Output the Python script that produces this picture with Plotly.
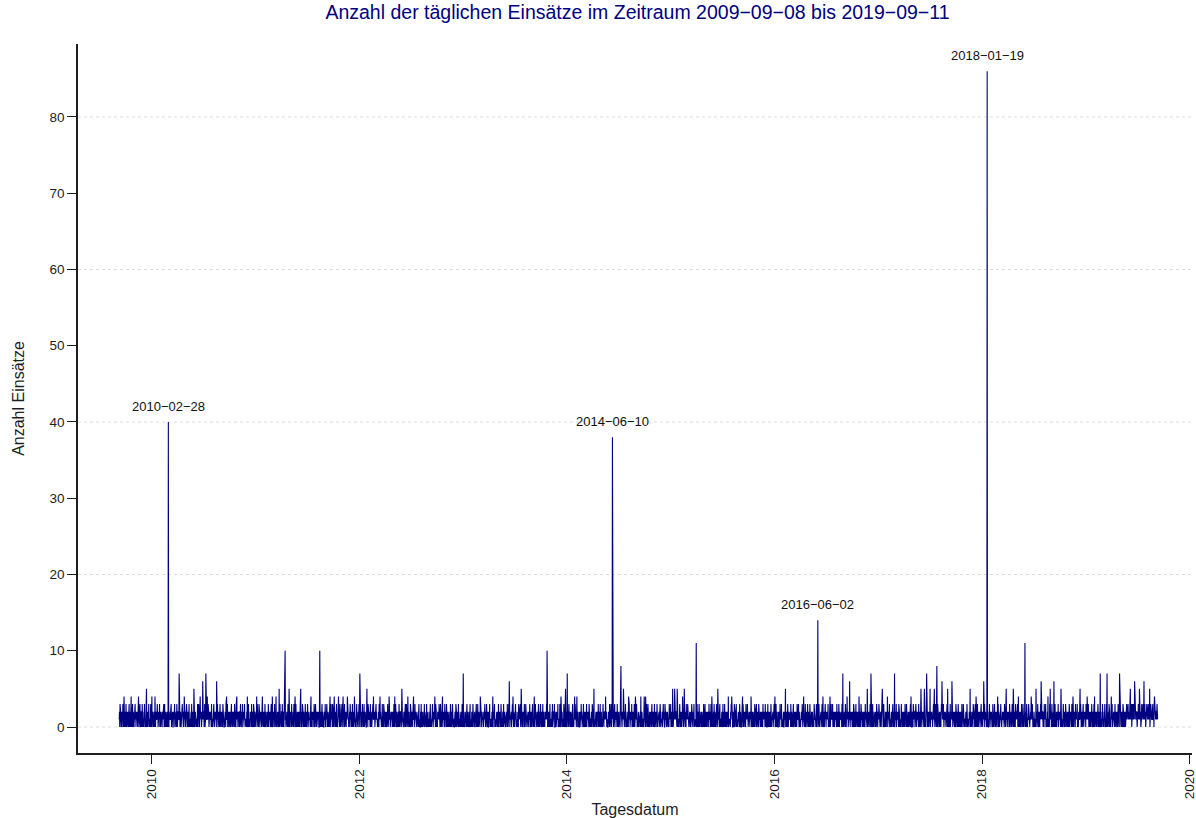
import plotly.graph_objects as go
import pandas as pd

# ---------------- Daten ----------------
startdatum = "2009-09-08"

# tägliche Grundwerte (eine Ziffer je Tag, ab 2009-09-08)
basis_zeilen = [
    "1203121021 0213102120 1120312011 2101230112 0211021301",
    "2102013120 1021203112 0123102210 1320110213 2011032102",
    "0121302110 2310120121 1022103102 0112312010 2130120211",
    "1021120301 3012021102 2101302011 1203012120 0211230101",
    "2013101221 1023012102 0132110210 2101202313 1020113021",
    "0212031102 1102310120 2011023101 3120102112 0121031220",
    "1302101211 0213120102 1121030210 2013102112 1200213101",
    "2110230121 1021031210 0212103121 1302012110 2101231021",
    "0121103210 2130102112 1012201310 0211302121 1320110102",
    "1102130211 0211203101 2103120210 1021103212 0131201021",
    "2012310120 1203101211 0121031021 2110230102 1021120312",
    "1030211201 2102013110 1220310121 0312011021 2101320110",
    "0211201302 1120130211 2031011201 1202103120 0112031210",
    "2101130210 0213201121 1102310120 2011203101 1320120112",
    "1210031201 2011302110 0121130212 1302101120 2110203121",
    "0312011210 1201230110 2102110312 0121301201 1023011210",
    "2110320101 0213110202 1301201121 2011023110 0211302012",
    "1021013210 2130112010 0211203121 1120310210 2013101122",
    "0201312110 1102031201 2120113021 0312101210 1201132011",
    "1312010221 2011201310 1023110212 0121031102 2110203101",
    "0121102310 1302012110 2011031201 1210230112 0312101021",
    "2101230110 0213011202 1120310121 2031101201 1102130210",
    "1023101211 2110302011 0211213010 1302011210 2011203112",
    "0132012101 1201103210 2013120110 0121031201 1210302110",
    "2101120312 0312011021 1102301210 2120130101 0211032110",
    "1210201301 2031102110 0121310201 1102012310 2013110120",
    "0211302110 1120130201 2301101212 0112031021 1201320110",
    "2013011201 0121203110 1310201121 2011310202 1102031201",
    "1102103121 2130110201 0211203110 1320101212 0121130201",
    "2011230110 1102031201 2120113021 0213101210 1301201102",
    "0121310201 2011203110 1102130212 2130011201 0211302110",
    "1310201102 0211031201 2101120312 1023110210 2110203011",
    "0201132110 1312011020 0211203121 2101310120 1120130201",
    "2110302011 0121031210 1302101121 0211203110 2013011201",
    "1023110212 2101320110 0121103201 1310210121 0211302011",
    "2103011201 1120310212 0211203101 2130110120 1102031201",
    "0211301210 2013101121 1320110201 0121203110 2101130212",
    "1202103110 0312011201 2110230121 1021301210 0213101122",
    "2011320101 1201031210 0312110201 2120103112 1301201021",
    "0121103212 2110302011 1023110201 0211320110 2101203121",
    "1310201121 0201132110 2113021010 1202310121 0312011210",
    "2101120310 1130210201 0211203112 2013101210 1120310201",
    "0213101121 2102310110 1201130212 0312011201 2110203110",
    "1021320110 0211031201 2130110212 1102301210 0121103201",
    "2110203121 1302011210 0211310201 2101120312 1023101210",
    "0312110201 2011203121 1120310210 0213011201 2101320112",
    "1201031210 2130112010 0211203121 1302101120 0121130210",
    "2013101212 1120310201 0213011210 2101203112 1310201102",
    "0211320110 2101130212 1023110201 0312011210 2120103121",
    "1102301210 0213101121 2011320110 1201031202 0121130210",
    "2110203121 1302011201 0211203110 2013101212 1120310201",
    "0121103210 2101320112 1310201121 0211031202 2103011210",
    "1201130212 0312110201 2011203121 1102301210 0213101120",
    "2130110201 1021203112 0211310201 2101120310 1320110212",
    "0211203121 1302101120 2013011201 0121130212 2110302011",
    "1023110210 2101203121 0312011201 1210230110 0211031212",
    "2011320112 1120310201 0213101211 2102130110 1301201021",
    "0121103212 2110203120 1023110211 0312101201 2101320112",
    "1310201121 0211302110 2101130212 1023011201 0212031210",
    "2103110201 1201203121 0311201102 2110320110 1021130212",
    "0211203121 2013101120 1302011212 0121310201 2110203112",
    "1201320110 0213101211 2101130202 1310201121 0211302110",
    "2013110212 1120203101 0312110201 2101320112 1023110210",
    "0211031212 2130110201 1201203121 0312011210 2110302011",
    "1310201121 0211320110 2101130212 1023110201 0213101212",
    "2101203121 1302110201 0211031212 2013101120 1120310212",
    "0121130212 2110302011 1023110212 0312101201 2101320112",
    "1203110212 0211203121 2130110201 1201320112 0213101212",
    "1203121021 2310120121 0213102120 1302012110 2101231021",
    "0212031102 1320110213 2011032102 1120312011 0211230101",
    "2110230121 1021203112 0132110210 2103120210 1202313121",
    "2312121232 1213021312 3121232112 2210121321 1322120213",
    "2121312213 3120221321 1232121302 2312112231 1203221312",
    "212321",
]

# Tage mit erhöhter Einsatzzahl
spitzen_datum = [
    "2009-09-25", "2009-10-20", "2009-11-15", "2009-12-13", "2010-01-01", "2010-01-12",
    "2010-02-28", "2010-04-07", "2010-04-25", "2010-05-29", "2010-06-20", "2010-06-29",
    "2010-07-10", "2010-07-15", "2010-08-17", "2010-09-21", "2010-10-27", "2010-12-03",
    "2011-01-05", "2011-01-25", "2011-03-01", "2011-03-14", "2011-03-25", "2011-04-15",
    "2011-04-29", "2011-05-20", "2011-06-09", "2011-07-15", "2011-08-15", "2011-09-20",
    "2011-10-05", "2011-10-20", "2011-11-05", "2011-11-20", "2011-12-15", "2012-01-03",
    "2012-01-28", "2012-02-20", "2012-03-14", "2012-04-15", "2012-05-05", "2012-05-30",
    "2012-06-20", "2012-07-10", "2012-09-23", "2012-10-20", "2013-01-01", "2013-03-02",
    "2013-04-15", "2013-06-12", "2013-06-25", "2013-07-24", "2013-09-08", "2013-10-23",
    "2013-10-24", "2013-12-11", "2013-12-27", "2014-01-02", "2014-01-28", "2014-02-05",
    "2014-04-06", "2014-05-17", "2014-06-10", "2014-07-10", "2014-07-19", "2014-08-06",
    "2014-08-30", "2014-09-18", "2014-09-30", "2014-10-05", "2015-01-08", "2015-01-15",
    "2015-01-24", "2015-02-12", "2015-02-18", "2015-04-01", "2015-05-26", "2015-06-16",
    "2015-07-23", "2015-08-04", "2015-09-11", "2015-10-11", "2016-01-03", "2016-02-09",
    "2016-04-13", "2016-06-02", "2016-06-20", "2016-07-15", "2016-08-29", "2016-09-13",
    "2016-09-22", "2016-10-25", "2016-11-23", "2016-12-06", "2017-01-15", "2017-02-02",
    "2017-02-27", "2017-04-26", "2017-05-31", "2017-06-12", "2017-06-20", "2017-07-02",
    "2017-07-17", "2017-07-26", "2017-08-13", "2017-09-02", "2017-09-17", "2017-11-20",
    "2017-12-11", "2018-01-07", "2018-01-19", "2018-02-25", "2018-03-27", "2018-04-21",
    "2018-05-09", "2018-06-01", "2018-06-23", "2018-07-10", "2018-07-28", "2018-08-21",
    "2018-08-29", "2018-09-11", "2018-10-06", "2018-11-17", "2018-12-12", "2019-01-06",
    "2019-02-01", "2019-02-21", "2019-03-17", "2019-04-01", "2019-04-30", "2019-06-07",
    "2019-06-22", "2019-07-09", "2019-07-25", "2019-08-14", "2019-08-31",
]
spitzen_wert = [
    4, 4, 4, 5, 4, 4,
    40, 7, 4, 5, 4, 6,
    7, 4, 6, 4, 4, 4,
    4, 4, 4, 4, 5, 10,
    5, 4, 5, 4, 10, 4,
    4, 4, 4, 4, 4, 7,
    5, 4, 4, 4, 4, 5,
    4, 4, 4, 4, 7, 4,
    4, 6, 4, 5, 4, 10,
    7, 4, 5, 7, 4, 4,
    5, 4, 38, 8, 5, 4,
    4, 4, 4, 4, 5, 5,
    5, 4, 5, 11, 4, 5,
    4, 4, 4, 4, 4, 5,
    4, 14, 4, 4, 7, 4,
    6, 4, 5, 7, 5, 4,
    7, 4, 5, 5, 7, 5,
    5, 8, 6, 5, 6, 5,
    4, 6, 86, 4, 5, 5,
    4, 11, 4, 5, 6, 4,
    5, 6, 5, 4, 5, 4,
    4, 7, 7, 4, 7, 5,
    6, 5, 6, 5, 4,
]

beschriftete_tage = ["2010-02-28", "2014-06-10", "2016-06-02", "2018-01-19"]

x_tick_jahre = ["2010", "2012", "2014", "2016", "2018", "2020"]
y_tick_werte = [0, 10, 20, 30, 40, 50, 60, 70, 80]
gitter_werte = [0, 20, 40, 60, 80]

# ---------------- Aufbereitung ----------------
werte = [int(c) for z in basis_zeilen for c in z if c.isdigit()]
tage = pd.date_range(startdatum, periods=len(werte), freq="D")
reihe = pd.Series(werte, index=tage)
for d, v in zip(spitzen_datum, spitzen_wert):
    t = pd.Timestamp(d)
    if t in reihe.index:
        reihe[t] = v

NAVY = "#000080"
FONT = "Liberation Sans, Arial, sans-serif"
GRAU = "#1e1e1e"

fig = go.Figure()
fig.add_trace(go.Scatter(
    x=reihe.index, y=reihe.values, mode="lines",
    line=dict(color=NAVY, width=1.1), hoverinfo="x+y", showlegend=False,
))

for g in gitter_werte:
    fig.add_hline(y=g, line=dict(color="#dcdcdc", width=1, dash="dot"), layer="below")

for d in beschriftete_tage:
    t = pd.Timestamp(d)
    fig.add_annotation(
        x=t, y=reihe[t], text=d.replace("-", "\u2212"), showarrow=False,
        yanchor="bottom", yshift=6, font=dict(size=13, color="#111111", family=FONT),
    )

titel = "Anzahl der täglichen Einsätze im Zeitraum {} bis {}".format(
    reihe.index[0].strftime("%Y-%m-%d"), "2019-09-11").replace("-", "\u2212")

fig.update_layout(
    width=1196, height=818,
    margin=dict(l=78, r=4, t=44, b=65, autoexpand=False),
    paper_bgcolor="white", plot_bgcolor="white",
    font=dict(family=FONT, color=GRAU),
    title=dict(text=titel, x=0.533, xanchor="center", y=0.985, yanchor="middle",
               font=dict(size=19.5, color=NAVY, family=FONT)),
    showlegend=False,
)
fig.update_xaxes(
    type="date", range=["2009-04-16", "2020-01-10"], automargin=False,
    tickvals=[pd.Timestamp(j + "-01-01") for j in x_tick_jahre], ticktext=x_tick_jahre,
    tickangle=-90, ticks="outside", ticklen=9, tickwidth=1.4, tickcolor=GRAU,
    tickfont=dict(size=13.5, color=GRAU), ticklabeloverflow="allow",
    showline=True, linecolor=GRAU, linewidth=1.6, showgrid=False, zeroline=False,
    title=dict(text="Tagesdatum", font=dict(size=16, color=GRAU), standoff=6),
)
fig.update_yaxes(
    range=[-3.41, 89.57], automargin=False,
    tickvals=y_tick_werte, ticks="outside", ticklen=9, tickwidth=1.4, tickcolor=GRAU,
    tickfont=dict(size=13.5, color=GRAU),
    showline=True, linecolor=GRAU, linewidth=1.6, showgrid=False, zeroline=False,
    title=dict(text="Anzahl Einsätze", font=dict(size=16, color=GRAU), standoff=21),
)

fig.write_html("out.html", config={"displayModeBar": False},
               post_script="document.body.style.margin='0';")
